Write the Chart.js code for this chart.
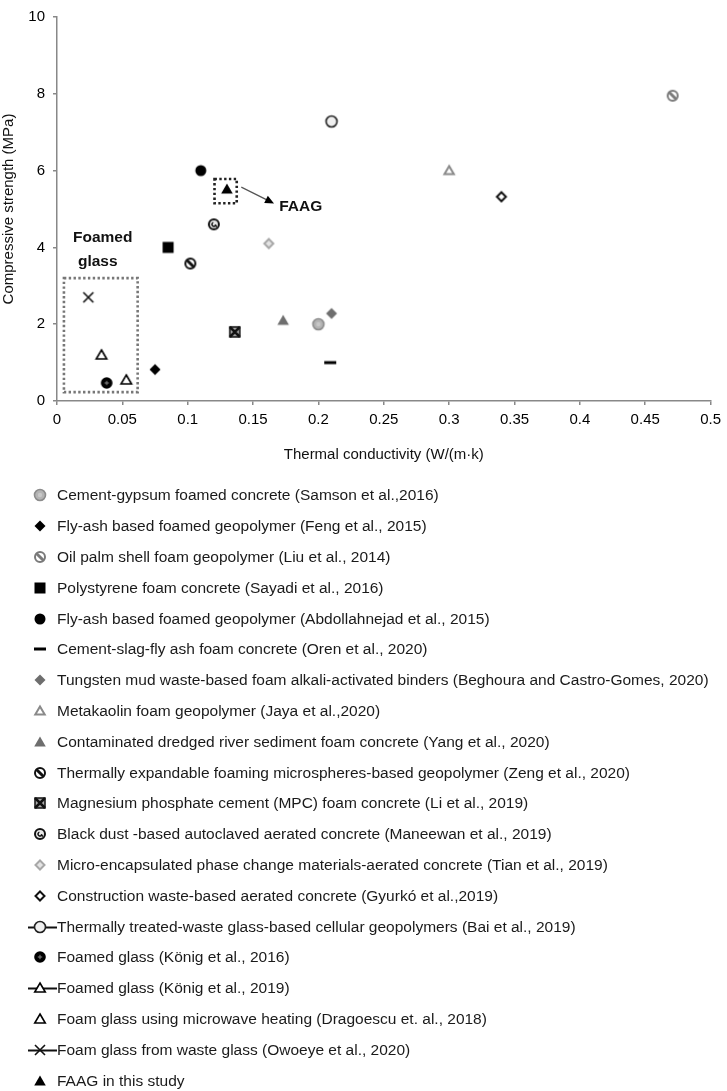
<!DOCTYPE html>
<html>
<head>
<meta charset="utf-8">
<script src="https://cdn.jsdelivr.net/npm/chart.js"></script>
<style>
  body { margin: 0; background: #fff; font-family: "Liberation Sans", Arial, sans-serif; }
  #wrap { position: relative; width: 727px; height: 1091px; }
  #chartBox { position: absolute; left: 0; top: 0; width: 727px; height: 470px; }
  #legend { position: absolute; left: 0; top: 480px; width: 727px; }
  .row { height: 30.8px; display: flex; align-items: center; white-space: nowrap; }
  .row canvas { margin-left: 23px; }
  .row span { font-size: 15.5px; color: #1a1a1a; }
</style>
</head>
<body>
<div id="wrap">
  <div id="chartBox"><canvas id="myChart"></canvas></div>
  <div id="legend"></div>
</div>
<script>
// data
const seriesNames = [
  'Cement-gypsum foamed concrete (Samson et al.,2016)',
  'Fly-ash based foamed geopolymer (Feng et al., 2015)',
  'Oil palm shell foam geopolymer (Liu et al., 2014)',
  'Polystyrene foam concrete (Sayadi et al., 2016)',
  'Fly-ash based foamed geopolymer (Abdollahnejad et al., 2015)',
  'Cement-slag-fly ash foam concrete (Oren et al., 2020)',
  'Tungsten mud waste-based foam alkali-activated binders (Beghoura and Castro-Gomes, 2020)',
  'Metakaolin foam geopolymer (Jaya et al.,2020)',
  'Contaminated dredged river sediment foam concrete (Yang et al., 2020)',
  'Thermally expandable foaming microspheres-based geopolymer (Zeng et al., 2020)',
  'Magnesium phosphate cement (MPC) foam concrete (Li et al., 2019)',
  'Black dust -based autoclaved aerated concrete (Maneewan et al., 2019)',
  'Micro-encapsulated phase change materials-aerated concrete (Tian et al., 2019)',
  'Construction waste-based aerated concrete (Gyurkó et al.,2019)',
  'Thermally treated-waste glass-based cellular geopolymers (Bai et al., 2019)',
  'Foamed glass (König et al., 2016)',
  'Foamed glass (König et al., 2019)',
  'Foam glass using microwave heating (Dragoescu et. al., 2018)',
  'Foam glass from waste glass (Owoeye et al., 2020)',
  'FAAG in this study'
];
const thermalK = [0.200, 0.075, 0.471, 0.085, 0.110, 0.209, 0.210, 0.300, 0.173, 0.102,
                  0.136, 0.120, 0.162, 0.340, 0.210, 0.038, 0.053, 0.034, 0.024, 0.130];
const strength = [2.0, 0.82, 7.95, 4.0, 6.0, 1.0, 2.28, 6.0, 2.1, 3.58,
                  1.8, 4.6, 4.1, 5.32, 7.28, 0.47, 0.55, 1.2, 2.7, 5.52];
const xTicks = ['0', '0.05', '0.1', '0.15', '0.2', '0.25', '0.3', '0.35', '0.4', '0.45', '0.5'];
const yTicks = ['0', '2', '4', '6', '8', '10'];

// marker look per series (index order as above)
const markerKind = ['grayCircle', 'blackDiamond', 'hatchGray', 'blackSquare', 'blackCircle', 'dash',
  'grayDiamond', 'grayTriOpen', 'grayTri', 'hatchBlack', 'xSquare', 'swirl', 'lightDiamond',
  'openDiamond', 'openCircle', 'crossCircle', 'openTri', 'openTri', 'xMark', 'blackTri'];
const withLine = [14, 16, 18];
const FONT = '"Liberation Sans", Arial, sans-serif';

function tri(ctx, x, y, s) {
  ctx.beginPath();
  ctx.moveTo(x, y - s);
  ctx.lineTo(x + s * 1.05, y + s * 0.8);
  ctx.lineTo(x - s * 1.05, y + s * 0.8);
  ctx.closePath();
}
function diamond(ctx, x, y, s) {
  ctx.beginPath();
  ctx.moveTo(x, y - s); ctx.lineTo(x + s, y); ctx.lineTo(x, y + s); ctx.lineTo(x - s, y);
  ctx.closePath();
}
function circle(ctx, x, y, r) {
  ctx.beginPath(); ctx.arc(x, y, r, 0, Math.PI * 2);
}

function drawMarker(ctx, kind, x, y) {
  ctx.save();
  ctx.lineJoin = 'miter';
  switch (kind) {
    case 'grayCircle':
      circle(ctx, x, y, 5.5); ctx.fillStyle = '#b4b4b4'; ctx.fill();
      ctx.lineWidth = 1.6; ctx.strokeStyle = '#8c8c8c'; ctx.stroke();
      circle(ctx, x, y, 2.2); ctx.fillStyle = '#c8c8c8'; ctx.fill();
      break;
    case 'blackDiamond':
      diamond(ctx, x, y, 5.5); ctx.fillStyle = '#000'; ctx.fill(); break;
    case 'grayDiamond':
      diamond(ctx, x, y, 5.5); ctx.fillStyle = '#6e6e6e'; ctx.fill(); break;
    case 'lightDiamond':
      diamond(ctx, x, y, 4.5); ctx.fillStyle = '#e4e4e4'; ctx.fill();
      ctx.lineWidth = 2; ctx.strokeStyle = '#a8a8a8'; ctx.stroke(); break;
    case 'openDiamond':
      diamond(ctx, x, y, 4.5); ctx.fillStyle = '#fff'; ctx.fill();
      ctx.lineWidth = 2; ctx.strokeStyle = '#111'; ctx.stroke(); break;
    case 'hatchGray':
    case 'hatchBlack': {
      const c = kind === 'hatchGray' ? '#7a7a7a' : '#111';
      circle(ctx, x, y, 5); ctx.fillStyle = '#fff'; ctx.fill();
      ctx.lineWidth = 2; ctx.strokeStyle = c; ctx.stroke();
      ctx.beginPath(); ctx.moveTo(x - 3.8, y - 3.8); ctx.lineTo(x + 3.8, y + 3.8);
      ctx.lineWidth = 3; ctx.stroke();
      break;
    }
    case 'blackSquare':
      ctx.fillStyle = '#000'; ctx.fillRect(x - 5.5, y - 5.5, 11, 11); break;
    case 'blackCircle':
      circle(ctx, x, y, 5.5); ctx.fillStyle = '#000'; ctx.fill(); break;
    case 'dash':
      ctx.fillStyle = '#000'; ctx.fillRect(x - 6, y - 1.5, 12, 3); break;
    case 'grayTri':
      tri(ctx, x, y, 5.5); ctx.fillStyle = '#6e6e6e'; ctx.fill(); break;
    case 'grayTriOpen':
      tri(ctx, x, y, 4.5); ctx.fillStyle = '#fff'; ctx.fill();
      ctx.lineWidth = 2; ctx.strokeStyle = '#8a8a8a'; ctx.stroke(); break;
    case 'openTri':
      tri(ctx, x, y, 5); ctx.fillStyle = '#fff'; ctx.fill();
      ctx.lineWidth = 1.6; ctx.strokeStyle = '#000'; ctx.stroke(); break;
    case 'blackTri':
      tri(ctx, x, y, 5.5); ctx.fillStyle = '#000'; ctx.fill(); break;
    case 'xSquare':
      ctx.fillStyle = '#aaa'; ctx.fillRect(x - 5, y - 5, 10, 10);
      ctx.lineWidth = 1.5; ctx.strokeStyle = '#111'; ctx.strokeRect(x - 5, y - 5, 10, 10);
      ctx.beginPath(); ctx.moveTo(x - 5, y - 5); ctx.lineTo(x + 5, y + 5);
      ctx.moveTo(x + 5, y - 5); ctx.lineTo(x - 5, y + 5); ctx.lineWidth = 2.5; ctx.stroke();
      break;
    case 'swirl':
      circle(ctx, x, y, 5); ctx.fillStyle = '#e8e8e8'; ctx.fill();
      ctx.lineWidth = 2; ctx.strokeStyle = '#111'; ctx.stroke();
      ctx.beginPath(); ctx.arc(x, y, 2, 0.3, Math.PI * 1.4); ctx.lineWidth = 1.5; ctx.stroke();
      ctx.beginPath(); ctx.moveTo(x + 1, y + 0.5); ctx.lineTo(x + 3, y + 2.5); ctx.stroke();
      break;
    case 'openCircle':
      circle(ctx, x, y, 5.5); ctx.fillStyle = '#f0f0f0'; ctx.fill();
      ctx.lineWidth = 1.6; ctx.strokeStyle = '#222'; ctx.stroke(); break;
    case 'crossCircle':
      circle(ctx, x, y, 5.8); ctx.fillStyle = '#000'; ctx.fill();
      ctx.beginPath(); ctx.moveTo(x - 2.2, y); ctx.lineTo(x + 2.2, y);
      ctx.moveTo(x, y - 2.2); ctx.lineTo(x, y + 2.2);
      ctx.lineWidth = 1; ctx.strokeStyle = '#888'; ctx.stroke(); break;
    case 'xMark':
      ctx.beginPath(); ctx.moveTo(x - 5, y - 5); ctx.lineTo(x + 5, y + 5);
      ctx.moveTo(x + 5, y - 5); ctx.lineTo(x - 5, y + 5);
      ctx.lineWidth = 1.6; ctx.strokeStyle = '#111'; ctx.stroke(); break;
  }
  ctx.restore();
}

function markerImage(kind) {
  const c = document.createElement('canvas');
  c.width = 18; c.height = 18;
  drawMarker(c.getContext('2d'), kind, 9, 9);
  return c;
}

// HTML legend
const legendDiv = document.getElementById('legend');
seriesNames.forEach(function(name, i) {
  const row = document.createElement('div');
  row.className = 'row';
  const ic = document.createElement('canvas');
  ic.width = 34; ic.height = 18;
  const ictx = ic.getContext('2d');
  if (withLine.indexOf(i) >= 0) {
    ictx.beginPath(); ictx.moveTo(5, 9.5); ictx.lineTo(34, 9.5);
    ictx.lineWidth = 2; ictx.strokeStyle = '#111'; ictx.stroke();
  }
  drawMarker(ictx, markerKind[i], 17, 9);
  const sp = document.createElement('span');
  sp.textContent = name;
  row.appendChild(ic);
  row.appendChild(sp);
  legendDiv.appendChild(row);
});

// dotted boxes, arrow and labels
const notes = {
  id: 'notes',
  afterDatasetsDraw(chart) {
    const ctx = chart.ctx;
    const xs = chart.scales.x, ys = chart.scales.y;
    const px = v => xs.getPixelForValue(v), py = v => ys.getPixelForValue(v);
    ctx.save();
    ctx.setLineDash([2.4, 2.4]);
    ctx.lineWidth = 2.6;
    ctx.strokeStyle = '#777';
    ctx.strokeRect(px(0.0053), py(3.2), px(0.0617) - px(0.0053), py(0.23) - py(3.2));
    ctx.strokeStyle = '#222';
    ctx.strokeRect(px(0.1205), py(5.78), px(0.1375) - px(0.1205), py(5.15) - py(5.78));
    ctx.setLineDash([]);
    // arrow
    const x1 = px(0.141), y1 = py(5.57), x2 = px(0.164), y2 = py(5.18);
    ctx.beginPath(); ctx.moveTo(x1, y1); ctx.lineTo(x2, y2);
    ctx.lineWidth = 1.2; ctx.strokeStyle = '#555'; ctx.stroke();
    const a = Math.atan2(y2 - y1, x2 - x1);
    ctx.beginPath();
    ctx.moveTo(x2 + 3 * Math.cos(a), y2 + 3 * Math.sin(a));
    ctx.lineTo(x2 - 6 * Math.cos(a) - 4 * Math.sin(a), y2 - 6 * Math.sin(a) + 4 * Math.cos(a));
    ctx.lineTo(x2 - 6 * Math.cos(a) + 4 * Math.sin(a), y2 - 6 * Math.sin(a) - 4 * Math.cos(a));
    ctx.closePath(); ctx.fillStyle = '#000'; ctx.fill();
    // labels
    ctx.fillStyle = '#111';
    ctx.font = 'bold 15.5px ' + FONT;
    ctx.textBaseline = 'middle';
    ctx.textAlign = 'left';
    ctx.fillText('FAAG', px(0.170), py(5.05));
    ctx.fillText('Foamed', px(0.0122), py(4.26));
    ctx.fillText('glass', px(0.016), py(3.63));
    ctx.restore();
  }
};

const datasets = seriesNames.map(function(name, i) {
  return {
    label: name,
    data: [{ x: thermalK[i], y: strength[i] }],
    pointStyle: markerImage(markerKind[i]),
    pointRadius: 6,
    pointHoverRadius: 6
  };
});

new Chart(document.getElementById('myChart'), {
  type: 'scatter',
  data: { datasets: datasets },
  plugins: [notes],
  options: {
    responsive: true,
    maintainAspectRatio: false,
    animation: false,
    layout: { padding: { top: 7, right: 13, left: 0, bottom: 0 } },
    plugins: { legend: { display: false }, tooltip: { enabled: false } },
    scales: {
      x: {
        type: 'linear', min: 0, max: 0.5,
        afterBuildTicks: function(scale) {
          scale.ticks = xTicks.map(t => ({ value: Number(t) }));
        },
        afterFit: function(scale) { scale.height = 69; },
        ticks: {
          callback: (v, i) => xTicks[i],
          color: '#000', padding: 6, maxRotation: 0,
          font: { size: 15, family: FONT }
        },
        grid: { display: true, drawOnChartArea: false, tickLength: 4, color: '#888', lineWidth: 1.5 },
        border: { color: '#888', width: 1.5 },
        title: {
          display: true, text: 'Thermal conductivity (W/(m·k)', color: '#111',
          padding: { top: 0, bottom: 6 },
          font: { size: 15, family: FONT }
        }
      },
      y: {
        type: 'linear', min: 0, max: 10,
        afterBuildTicks: function(scale) {
          scale.ticks = yTicks.map(t => ({ value: Number(t) }));
        },
        afterFit: function(scale) { scale.width = 57; },
        ticks: {
          callback: (v, i) => yTicks[i],
          color: '#000', padding: 8,
          font: { size: 15, family: FONT }
        },
        grid: { display: true, drawOnChartArea: false, tickLength: 4, color: '#888', lineWidth: 1.5 },
        border: { color: '#888', width: 1.5 },
        title: {
          display: true, text: 'Compressive strength (MPa)', color: '#111',
          padding: { top: 0, bottom: 1 },
          font: { size: 15, family: FONT }
        }
      }
    }
  }
});
</script>
</body>
</html>
